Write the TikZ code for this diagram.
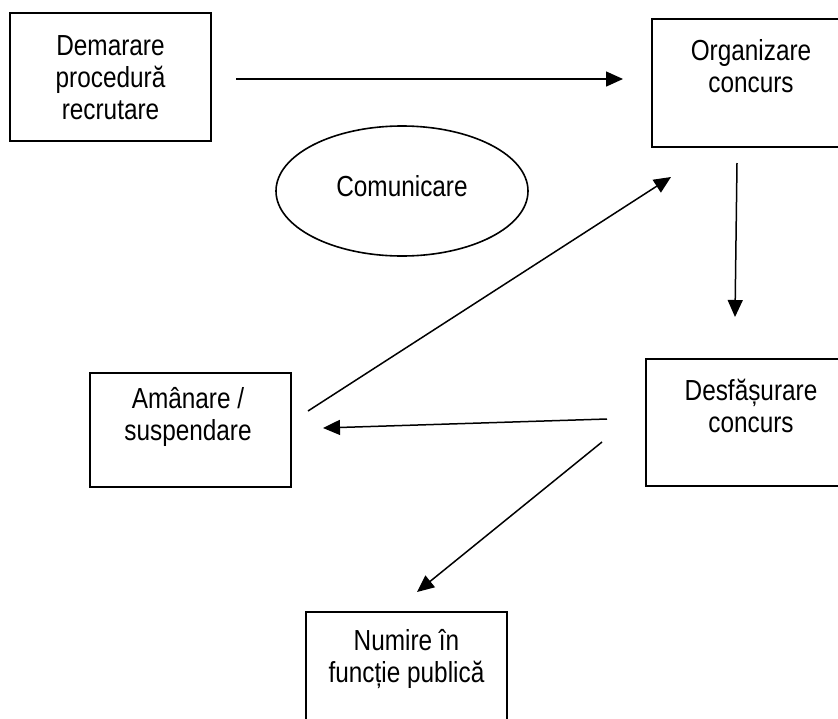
\documentclass[tikz,border=0pt]{standalone}
\usepackage{fontspec}
\setmainfont{Liberation Sans}[FakeStretch=0.84]
\usetikzlibrary{arrows.meta,shapes.geometric,calc}
\tikzset{
  box/.style={draw=black, line width=2pt, rectangle, inner sep=0pt},
  txt/.style={align=center, inner sep=0pt, font={\fontsize{29}{32}\selectfont}},
  conn/.style={line width=1.5pt, -{Triangle[length=17pt,width=15pt]}},
}
\begin{document}
\begin{tikzpicture}[x=1pt,y=-1pt]
\clip (0,0) rectangle (838,718);
\fill[white] (0,0) rectangle (838,718);
% boxes
\node[box, minimum width=201pt, minimum height=128pt] (dem) at (110.5,77) {};
\node[box, minimum width=198pt, minimum height=128pt] (org) at (751,83) {};
\node[box, minimum width=210pt, minimum height=127pt] (desf) at (751,422.5) {};
\node[box, minimum width=201pt, minimum height=114pt] (ama) at (190.5,430) {};
\node[box, minimum width=201pt, minimum height=128pt] (num) at (406.5,676) {};
\node[draw=black, line width=1.6pt, ellipse, minimum width=252pt, minimum height=130pt, inner sep=0pt] (com) at (402,191) {};
% texts
\node[txt] (demt) at (110.5,78) {Demarare\\procedură\\recrutare};
\node[txt] (orgt) at (751,66) {Organizare\\concurs};
\node[txt] (desft) at (751,406) {Desfășurare\\concurs};
\node[txt] (amat) at (188,417) {Amânare /\\suspendare};
\node[txt] (numt) at (406.5,659) {Numire în\\funcție publică};
\node[txt] (comt) at (402,186) {Comunicare};
% connectors
\draw[conn, shorten <=24pt, shorten >=28pt] ([yshift=-2pt]dem.east) -- ([yshift=-2pt]dem.east -| org.west);
\draw[conn] ([xshift=-14pt,yshift=-15pt]org.south) -- ([xshift=-16pt,yshift=41pt]desf.north);
\draw[conn] ([xshift=-38pt,yshift=3.5pt]desf.west) -- ([xshift=31pt,yshift=2pt]ama.east);
\draw[conn] ([xshift=-43pt,yshift=-19.5pt]desf.west) -- ([xshift=10.5pt,yshift=19pt]num.north);
\draw[conn] ([xshift=16pt,yshift=19pt]ama.east) -- ([xshift=20pt,yshift=-29pt]org.south west);
\end{tikzpicture}
\end{document}
